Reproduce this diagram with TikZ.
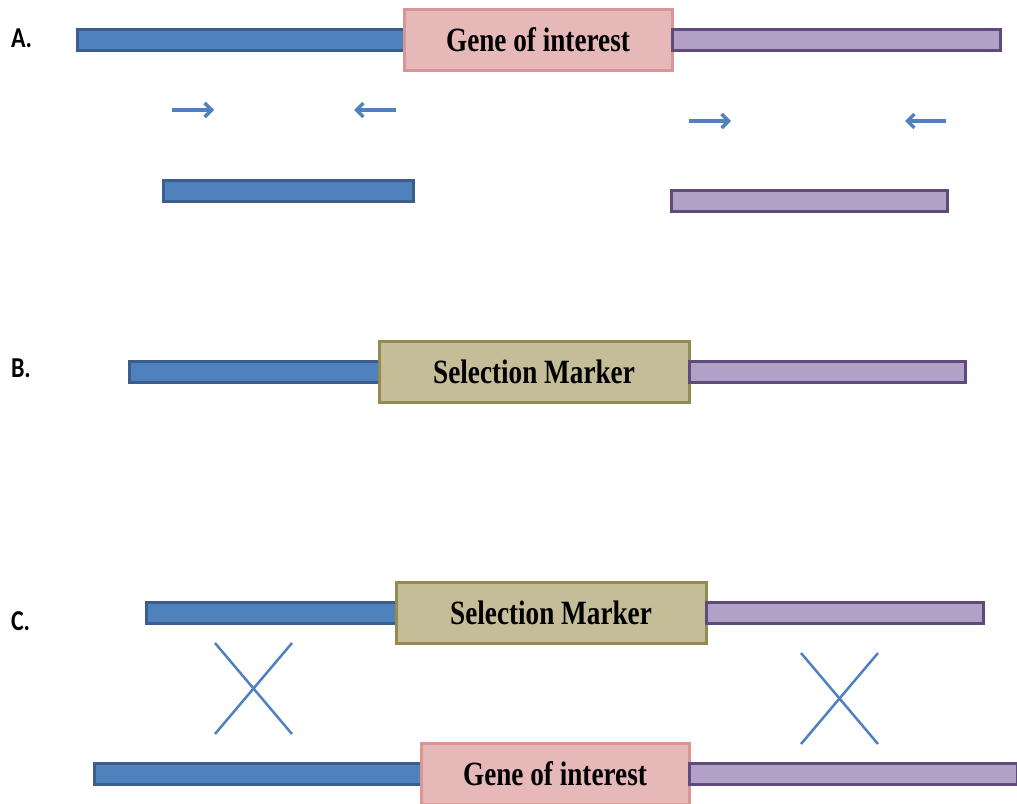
\documentclass[tikz,border=0pt]{standalone}
\usepackage{fontspec}
\usepackage{graphicx}
\setmainfont{Liberation Serif}
\newfontfamily\stepfont{Carlito}
\usetikzlibrary{positioning,arrows.meta}
\definecolor{flankblue}{HTML}{4F81BD}
\definecolor{flankblueline}{HTML}{3A5F8E}
\definecolor{flankpurple}{HTML}{B2A1C7}
\definecolor{flankpurpleline}{HTML}{604A7B}
\definecolor{genepink}{HTML}{E6B9B8}
\definecolor{genepinkline}{HTML}{D99694}
\definecolor{markertan}{HTML}{C4BD97}
\definecolor{markertanline}{HTML}{948A54}

\begin{document}
\begin{tikzpicture}[x=1pt,y=-1pt,
    every node/.style={inner sep=0pt, outer sep=0pt},
    bar/.style={draw, line width=3pt, minimum height=21pt},
    leftbar/.style={bar, fill=flankblue, draw=flankblueline},
    rightbar/.style={bar, fill=flankpurple, draw=flankpurpleline},
    genebox/.style={draw=genepinkline, fill=genepink, line width=3pt, minimum width=268pt, minimum height=61pt,
        font=\fontsize{34}{34}\selectfont\bfseries},
    markerbox/.style={draw=markertanline, fill=markertan, line width=3pt, minimum width=310pt, minimum height=61pt,
        font=\fontsize{34}{34}\selectfont\bfseries},
    steplabel/.style={anchor=west, font=\stepfont\fontsize{24}{24}\selectfont\bfseries},
    primer/.style={draw=flankblue, line width=3.5pt, -{Straight Barb[length=7pt, width=14pt]}},
    crossline/.style={draw=flankblue, line width=2.5pt}]
    \useasboundingbox (0,0) rectangle (1017,803);

    % A. flanks of the gene and their PCR products
    \node[steplabel] (labA) at (11,38) {\scalebox{1}[1.2]{A.}};
    \node[leftbar, minimum width=327pt, anchor=west] (leftA) at (77,39.5) {};
    \node[genebox, right=0pt of leftA] (geneA) {\scalebox{0.8}[1]{Gene of interest}};
    \node[rightbar, minimum width=328pt, right=0pt of geneA] (rightA) {};
    \draw[primer] (172,110) -- (214,110);
    \draw[primer] (396,110) -- (354,110);
    \draw[primer] (689,121) -- (731,121);
    \draw[primer] (946,121) -- (905,121);
    \node[leftbar, minimum width=250pt, anchor=west] (leftPcr) at (163,190.5) {};
    \node[rightbar, minimum width=276pt, anchor=west] (rightPcr) at (671,200.5) {};

    % B. flanks joined to the marker
    \node[steplabel] (labB) at (11,368) {\scalebox{1}[1.2]{B.}};
    \node[leftbar, minimum width=250pt, anchor=west] (leftB) at (129,371.5) {};
    \node[markerbox, right=0pt of leftB] (markerB) {\scalebox{0.8}[1]{Selection Marker}};
    \node[rightbar, minimum width=276pt, right=0pt of markerB] (rightB) {};

    % C. double crossover
    \node[steplabel] (labC) at (11,621) {\scalebox{1}[1.2]{C.}};
    \node[leftbar, minimum width=250pt, anchor=west] (leftC) at (146,612.5) {};
    \node[markerbox, right=0pt of leftC] (markerC) {\scalebox{0.8}[1]{Selection Marker}};
    \node[rightbar, minimum width=277pt, right=0pt of markerC] (rightC) {};
    \draw[crossline] (215,643) -- (292,734);
    \draw[crossline] (292,643) -- (215,734);
    \draw[crossline] (801,653) -- (878,744);
    \draw[crossline] (878,653) -- (801,744);
    \node[leftbar, minimum width=327pt, anchor=west] (leftD) at (94,773.5) {};
    \node[genebox, right=0pt of leftD] (geneD) {\scalebox{0.8}[1]{Gene of interest}};
    \node[rightbar, minimum width=328pt, right=0pt of geneD] (rightD) {};
\end{tikzpicture}
\end{document}
